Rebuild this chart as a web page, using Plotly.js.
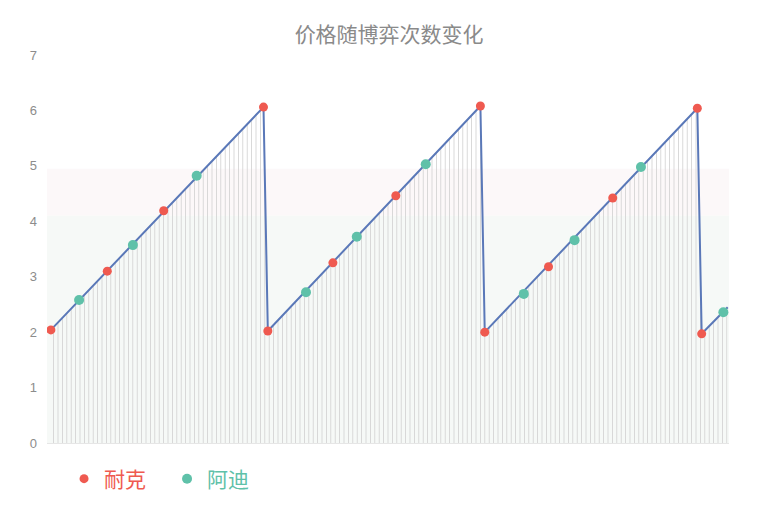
<!DOCTYPE html>
<html>
<head>
<meta charset="utf-8">
<script src="https://cdn.plot.ly/plotly-3.0.1.min.js"></script>
<style>
  html, body { margin: 0; padding: 0; background: #fff; }
  #chart { width: 763px; height: 509px; }
</style>
</head>
<body>
<div id="chart"></div>
<script>
// price path (vertices of the sawtooth), x = round index
var priceRounds = [0, 49, 50, 99, 100, 149, 150, 156];
var priceValues = [2.04, 6.06, 2.02, 6.08, 2.0, 6.04, 1.97, 2.45];

// 耐克 moves
var nikeRounds = [0, 13, 26, 49, 50, 65, 79.5, 99, 100, 114.7, 129.5, 149, 150];
var nikeValues = [2.04, 3.10, 4.19, 6.06, 2.02, 3.25, 4.46, 6.08, 2.0, 3.18, 4.42, 6.04, 1.97];

// 阿迪 moves
var adiRounds = [6.5, 18.9, 33.6, 58.8, 70.5, 86.4, 109, 120.7, 136, 155];
var adiValues = [2.58, 3.57, 4.82, 2.72, 3.72, 5.03, 2.69, 3.66, 4.98, 2.36];

var nikeColor = '#ef5a50';
var adiColor = '#5fc1a9';

var traces = [
  {
    x: priceRounds,
    y: priceValues,
    type: 'scatter',
    mode: 'lines',
    line: { color: '#5a78b8', width: 2 },
    fill: 'tozeroy',
    fillcolor: 'rgba(0,0,0,0)',
    fillpattern: {
      shape: '|',
      size: 4.4,
      solidity: 0.2,
      fgcolor: '#d4d4d4',
      bgcolor: 'rgba(255,255,255,0)'
    },
    showlegend: false,
    hoverinfo: 'skip'
  },
  {
    x: nikeRounds,
    y: nikeValues,
    type: 'scatter',
    mode: 'markers',
    name: '<span style="color:' + nikeColor + '">耐克</span>',
    marker: { color: nikeColor, size: 9 }
  },
  {
    x: adiRounds,
    y: adiValues,
    type: 'scatter',
    mode: 'markers',
    name: '<span style="color:' + adiColor + '">阿迪</span>',
    marker: { color: adiColor, size: 10 }
  }
];

var layout = {
  width: 763,
  height: 509,
  margin: { l: 47, r: 34, t: 55, b: 66, pad: 0, autoexpand: false },
  paper_bgcolor: '#ffffff',
  plot_bgcolor: 'rgba(0,0,0,0)',
  font: { family: 'Noto Sans CJK SC, Noto Sans, sans-serif', color: '#888' },
  title: {
    text: '价格随博弈次数变化',
    x: 0.51,
    xanchor: 'center',
    y: 0.932,
    yanchor: 'middle',
    font: { size: 21, color: '#8a8a8a' }
  },
  xaxis: {
    range: [-0.9, 156.3],
    showticklabels: false,
    ticks: '',
    showgrid: false,
    zeroline: false,
    showline: true,
    linecolor: '#e6e6e6',
    linewidth: 1
  },
  yaxis: {
    range: [0, 7],
    dtick: 1,
    showgrid: false,
    zeroline: false,
    showline: false,
    ticks: '',
    ticklabelstandoff: 9,
    tickfont: { size: 13, color: '#8c8c8c', family: 'Liberation Sans, Arial, sans-serif' }
  },
  shapes: [
    {
      type: 'rect', xref: 'paper', yref: 'y', layer: 'below',
      x0: 0, x1: 1, y0: 4.1, y1: 4.95,
      fillcolor: '#fcf8f9', line: { width: 0 }
    },
    {
      type: 'rect', xref: 'paper', yref: 'y', layer: 'below',
      x0: 0, x1: 1, y0: 0, y1: 4.1,
      fillcolor: '#f6f9f7', line: { width: 0 }
    }
  ],
  showlegend: true,
  legend: {
    orientation: 'h',
    x: 0.025,
    xanchor: 'left',
    y: -0.04,
    yanchor: 'top',
    font: { size: 21, family: 'Noto Sans CJK SC, sans-serif' },
    itemwidth: 30,
    entrywidth: 58,
    entrywidthmode: 'pixels',
    tracegroupgap: 0,
    bgcolor: 'rgba(0,0,0,0)'
  }
};

Plotly.newPlot('chart', traces, layout, { displayModeBar: false, staticPlot: true });
</script>
</body>
</html>
